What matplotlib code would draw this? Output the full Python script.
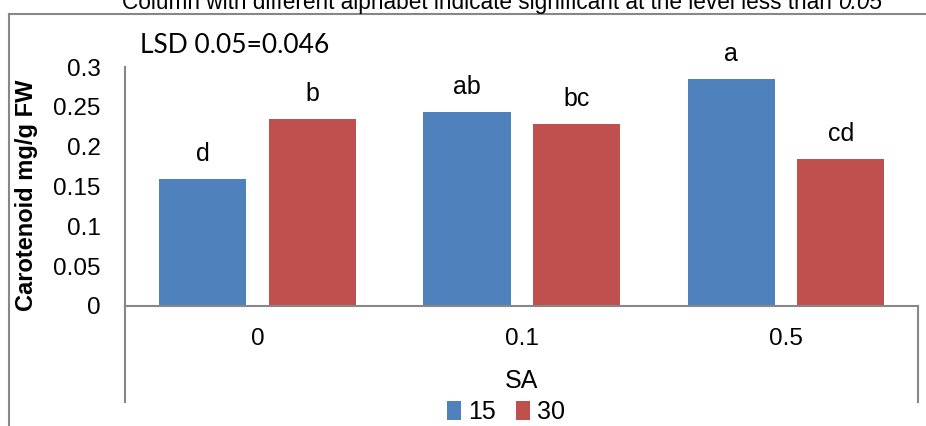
import matplotlib.pyplot as plt
from matplotlib.lines import Line2D

sa_levels = ['0', '0.1', '0.5']
series_names = ['15', '30']
carotenoid_15 = [0.160, 0.243, 0.285]
carotenoid_30 = [0.235, 0.229, 0.185]
letters_15 = ['d', 'ab', 'a']
letters_30 = ['b', 'bc', 'cd']

blue = '#4F81BD'
red = '#C0504D'
grey = '#878787'

plt.rcParams['font.family'] = ['Liberation Sans', 'DejaVu Sans']

fig = plt.figure(figsize=(9.26, 4.26), dpi=100)
ax = fig.add_axes([0.1355, 0.2817, 0.8559, 0.5610])

x = range(len(sa_levels))
off = 0.207
w = 0.33
b1 = ax.bar([i - off for i in x], carotenoid_15, w, color=blue, label=series_names[0])
b2 = ax.bar([i + off for i in x], carotenoid_30, w, color=red, label=series_names[1])

# significance letters above each bar
for bars, labs in ((b1, letters_15), (b2, letters_30)):
    for r, t in zip(bars, labs):
        ax.annotate(t, (r.get_x() + r.get_width() / 2, r.get_height()),
                    xytext=(0, 18), textcoords='offset points',
                    ha='center', va='center', fontsize=18)

ax.set_xlim(-0.5, 2.5)
ax.set_ylim(0, 0.3)
ax.set_yticks([0, 0.05, 0.1, 0.15, 0.2, 0.25, 0.3])
ax.set_yticklabels(['0', '0.05', '0.1', '0.15', '0.2', '0.25', '0.3'])
ax.set_xticks(list(x))
ax.set_xticklabels(sa_levels)
ax.tick_params(axis='y', length=0, pad=18, labelsize=17.5)
ax.tick_params(axis='x', length=0, pad=16, labelsize=17.5)

for s in ['top', 'right']:
    ax.spines[s].set_visible(False)
for s in ['left', 'bottom']:
    ax.spines[s].set_color(grey)
    ax.spines[s].set_linewidth(1.5)

# long category tick lines at both ends of the axis
for xx in (0, 1):
    ax.add_line(Line2D([xx, xx], [0, -0.402], transform=ax.transAxes,
                       color=grey, lw=1.5, clip_on=False))

ax.set_ylabel('Carotenoid mg/g FW', fontsize=17, fontweight='bold')
ax.yaxis.set_label_coords(-0.125, 0.465)
ax.yaxis.label.set_va('center')
ax.set_xlabel('SA', fontsize=18)
ax.xaxis.set_label_coords(0.5, -0.314)
ax.xaxis.label.set_va('center')

ax.legend(loc='center', bbox_to_anchor=(0.48, -0.445), ncol=2, frameon=False,
          fontsize=18, handlelength=0.55, handleheight=0.8, handletextpad=0.3,
          columnspacing=0.8, borderpad=0)

ax.text(0.018, 1.09, 'LSD 0.05=0.046', transform=ax.transAxes,
        fontsize=19, family=['Lato', 'DejaVu Sans'], va='center')

# outer chart frame
fig.add_artist(Line2D([9 / 926, 1], [1 - 14 / 426] * 2, color=grey, lw=1.5))
fig.add_artist(Line2D([9 / 926] * 2, [0, 1 - 14 / 426], color=grey, lw=1.5))

t1 = fig.text(122 / 926, 1 - 9 / 426,
              'Column with different alphabet indicate significant at the level less than ',
              fontsize=16.3, va='baseline', ha='left')
ax.annotate('0.05', xy=(1, 0), xycoords=t1, fontsize=16.3, style='italic',
            va='bottom', ha='left', annotation_clip=False)

fig.savefig('out.png', dpi=100)
